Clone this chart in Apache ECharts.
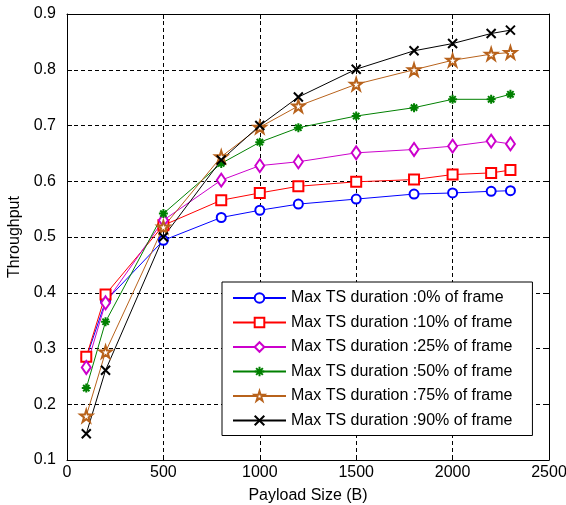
<!DOCTYPE html>
<html>
<head>
<meta charset="utf-8">
<script src="https://cdn.jsdelivr.net/npm/echarts@6/dist/echarts.min.js"></script>
<style>html,body{margin:0;padding:0;background:#fff}#c{width:566px;height:505px}</style>
</head>
<body>
<div id="c"></div>
<script>
const payload = [100, 200, 500, 800, 1000, 1200, 1500, 1800, 2000, 2200, 2300];
const ts0  = [0.283, 0.385, 0.494, 0.535, 0.548, 0.559, 0.568, 0.577, 0.579, 0.582, 0.583];
const ts10 = [0.285, 0.397, 0.521, 0.566, 0.579, 0.591, 0.599, 0.603, 0.612, 0.615, 0.620];
const ts25 = [0.266, 0.382, 0.530, 0.602, 0.628, 0.635, 0.651, 0.657, 0.663, 0.672, 0.667];
const ts50 = [0.229, 0.348, 0.542, 0.632, 0.670, 0.696, 0.717, 0.732, 0.747, 0.747, 0.756];
const ts75 = [0.179, 0.294, 0.518, 0.644, 0.697, 0.735, 0.774, 0.800, 0.817, 0.828, 0.831];
const ts90 = [0.147, 0.261, 0.500, 0.638, 0.700, 0.751, 0.801, 0.834, 0.847, 0.865, 0.871];
const seriesNames = [
  'Max TS duration :0% of frame',
  'Max TS duration :10% of frame',
  'Max TS duration :25% of frame',
  'Max TS duration :50% of frame',
  'Max TS duration :75% of frame',
  'Max TS duration :90% of frame'
];
const xTicks = [0, 500, 1000, 1500, 2000, 2500];
const yTicks = [0.1, 0.2, 0.3, 0.4, 0.5, 0.6, 0.7, 0.8, 0.9];

const allData = [ts0, ts10, ts25, ts50, ts75, ts90];
const colors = ['#0000ff', '#ff0000', '#cc00cc', '#008000', '#b8621b', '#000000'];
const STAR = 'emptypath://M50 0 L61.23 34.55 L97.55 34.55 L68.17 55.9 L79.39 90.45 L50 69.1 L20.61 90.45 L31.83 55.9 L2.45 34.55 L38.77 34.55 Z';
const ASTER = 'emptypath://M5 0 L5 10 M0 5 L10 5 M1.5 1.5 L8.5 8.5 M8.5 1.5 L1.5 8.5';
const XMARK = 'emptypath://M0 0 L10 10 M10 0 L0 10';
const symbols = ['emptyCircle', 'emptyRect', 'emptyDiamond', ASTER, STAR, XMARK];
const symSizes = [9, 10, [9, 13], 9, 12, 9];

const font = 'Liberation Sans, Arial, sans-serif';
const FS = 16;
const series = allData.map((d, i) => ({
  name: seriesNames[i],
  type: 'line',
  data: payload.map((x, j) => [x, d[j]]),
  symbol: symbols[i],
  symbolSize: symSizes[i],
  showAllSymbol: true,
  lineStyle: { color: colors[i], width: 1 },
  itemStyle: { color: colors[i], borderWidth: 1 },
  emphasis: { disabled: true },
  animation: false
}));

const chart = echarts.init(document.getElementById('c'), null, { renderer: 'canvas' });
const dash = { color: '#000', width: 1, type: [4, 3] };
chart.setOption({
  animation: false,
  textStyle: { fontFamily: font },
  grid: { left: 67, right: 17, top: 14, bottom: 45, containLabel: false, outerBoundsMode: 'none' },
  legend: {
    orient: 'vertical',
    left: 222, top: 282,
    padding: [8, 20, 7, 10],
    itemWidth: 53, itemHeight: 12, itemGap: 8.5,
    backgroundColor: '#fff',
    borderColor: '#000', borderWidth: 1, borderRadius: 0,
    textStyle: { fontFamily: font, fontSize: 16, color: '#000' },
    data: seriesNames
  },
  xAxis: [{
    type: 'value', min: 0, max: 2500, interval: 500,
    name: 'Payload Size (B)', nameLocation: 'middle', nameGap: 28,
    nameTextStyle: { fontFamily: font, fontSize: FS, color: '#000' },
    axisLine: { show: true, onZero: false, lineStyle: { color: '#000' } },
    axisTick: { show: true, inside: true, length: 5, lineStyle: { color: '#000' } },
    axisLabel: { fontFamily: font, fontSize: FS, color: '#000', margin: 5,
      formatter: v => xTicks.includes(v) ? String(v) : '' },
    splitLine: { show: true, lineStyle: dash }
  }, {
    type: 'value', min: 0, max: 2500, interval: 500, position: 'top',
    axisLine: { show: true, onZero: false, lineStyle: { color: '#000' } },
    axisTick: { show: true, inside: true, length: 5, lineStyle: { color: '#000' } },
    axisLabel: { show: false }, splitLine: { show: false }
  }],
  yAxis: [{
    type: 'value', min: 0.1, max: 0.9, interval: 0.1,
    name: 'Throughput', nameLocation: 'middle', nameGap: 38, nameRotate: 90,
    nameTextStyle: { fontFamily: font, fontSize: FS, color: '#000' },
    axisLine: { show: true, onZero: false, lineStyle: { color: '#000' } },
    axisTick: { show: true, inside: true, length: 5, lineStyle: { color: '#000' } },
    axisLabel: { fontFamily: font, fontSize: FS, color: '#000', margin: 11,
      formatter: v => { const s = (Math.round(v * 10) / 10).toFixed(1); return yTicks.map(t => t.toFixed(1)).includes(s) ? s : ''; } },
    splitLine: { show: true, lineStyle: dash }
  }, {
    type: 'value', min: 0.1, max: 0.9, interval: 0.1, position: 'right',
    axisLine: { show: true, onZero: false, lineStyle: { color: '#000' } },
    axisTick: { show: true, inside: true, length: 5, lineStyle: { color: '#000' } },
    axisLabel: { show: false }, splitLine: { show: false }
  }],
  series: series
});
</script>
</body>
</html>
